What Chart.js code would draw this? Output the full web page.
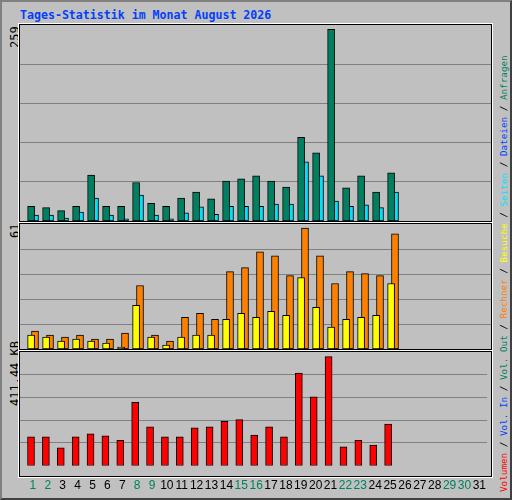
<!DOCTYPE html>
<html>
<head>
<meta charset="utf-8">
<script src="https://cdn.jsdelivr.net/npm/chart.js@4"></script>
<style>
body { margin: 0; background: #fff; }
#frame { position: relative; width: 508px; height: 496px; background: #c0c0c0; border: 2px solid #808080; border-right-color: #404040; border-bottom-color: #404040; overflow: hidden; }
.plot { position: absolute; left: 18px; width: 471px; box-shadow: 0 0 0 1px #000, 0 0 0 2px #fff; }
.plot canvas { display: block; }
.title { position: absolute; left: 18px; top: 6px; font: bold 11.6px "DejaVu Sans Mono", monospace; color: #0040ff; }
.rot { position: absolute; transform-origin: 0 0; transform: rotate(-90deg); white-space: nowrap; font-family: "DejaVu Sans Mono", monospace; }
.lab { font-size: 12px; color: #000; }
#legend { font-size: 9.3px; left: 496px; top: 490px; }
</style>
</head>
<body>
<div id="frame">
  <div class="title">Tages-Statistik im Monat August 2026</div>
  <div class="rot lab" style="left:6px;top:46px">259</div>
  <div class="rot lab" style="left:6px;top:236px">61</div>
  <div class="rot lab" style="left:6px;top:404px">411.44 KB</div>
  <div id="legend" class="rot">
    <span style="color:#ff0000">Volumen</span> / <span style="color:#0040ff">Vol. In</span> / <span style="color:#008060">Vol. Out</span> / <span style="color:#ff8000">Rechner</span> / <span style="color:#ffff00">Besuche</span> / <span style="color:#00e0ff">Seiten</span> / <span style="color:#0040ff">Dateien</span> / <span style="color:#008060">Anfragen</span>
  </div>
  <div class="plot" style="top:23px;height:196px"><canvas id="c1" width="471" height="196"></canvas></div>
  <div class="plot" style="top:222px;height:125px"><canvas id="c2" width="471" height="125"></canvas></div>
  <div class="plot" style="top:350px;height:124px;box-shadow:none"><div style="position:absolute;left:0;top:0;width:471px;height:124px;box-shadow:0 0 0 1px #000,0 0 0 2px #fff"></div><canvas id="c3" width="471" height="146"></canvas></div>
</div>
<script>
var days = [];
for (var d = 1; d <= 31; d++) days.push(d);
var weekend = [1, 2, 8, 9, 15, 16, 22, 23, 29, 30];

var anfragen = [20, 18, 14, 20, 62, 20, 20, 52, 24, 20, 31, 39, 30, 54, 57, 61, 54, 46, 113, 92, 259, 45, 61, 39, 65];
var seiten   = [8, 8, 4, 12, 31, 8, 3, 35, 8, 3, 11, 19, 9, 20, 20, 20, 23, 23, 80, 61, 27, 20, 22, 18, 39];
var besuche  = [7, 6, 4, 5, 4, 3, 1, 22, 6, 2, 6, 7, 7, 15, 18, 16, 19, 17, 36, 21, 11, 15, 16, 17, 33];
var rechner  = [9, 7, 6, 7, 5, 5, 8, 32, 7, 4, 16, 18, 15, 39, 41, 49, 47, 37, 61, 47, 33, 39, 38, 37, 58];
var volumen  = [108.6, 108.6, 67.4, 108.6, 120, 112, 94.9, 238.9, 146.3, 108.6, 108.6, 142.9, 146.3, 166.9, 173.7, 115.4, 146.3, 108.6, 348.6, 259.4, 411.44, 70.9, 94.9, 77.7, 156.6];

function pts(arr, off) {
    return arr.map(function (v, i) { return { x: days[i] + off, y: v }; });
}

function bars(label, arr, off, color) {
    return { label: label, data: pts(arr, off), backgroundColor: color, borderColor: '#000', borderWidth: 1, barThickness: 7, borderSkipped: false };
}

function makeChart(id, sets, ymax, showDays) {
    new Chart(document.getElementById(id), {
        type: 'bar',
        data: { datasets: sets },
        options: {
            responsive: false,
            animation: false,
            grouped: false,
            layout: { padding: 0 },
            plugins: { legend: { display: false }, tooltip: { enabled: false } },
            scales: {
                x: {
                    type: 'linear', min: 0.13, max: 31.53, offset: false, display: showDays,
                    grid: { display: false }, border: { display: false },
                    afterBuildTicks: function (ax) { ax.ticks = days.map(function (v) { return { value: v }; }); },
                    ticks: {
                        autoSkip: false, maxRotation: 0, padding: 5,
                        font: { family: 'Liberation Sans', size: 12 },
                        color: function (c) { return weekend.indexOf(c.tick.value) >= 0 ? '#008060' : '#000'; }
                    }
                },
                y: {
                    min: 0, max: ymax,
                    afterBuildTicks: function (ax) { ax.ticks = [1, 2, 3, 4].map(function (k) { return { value: ymax * k / 5 }; }); },
                    ticks: { display: false },
                    grid: { color: '#808080', drawTicks: false, lineWidth: 1 },
                    border: { display: false }
                }
            }
        }
    });
}

makeChart('c1', [bars('Anfragen', anfragen, -0.13, '#008060'), bars('Seiten', seiten, 0.13, '#00e0ff')], 265, false);
makeChart('c2', [bars('Besuche', besuche, -0.13, '#ffff00'), bars('Rechner', rechner, 0.13, '#ff8000')], 63, false);
makeChart('c3', [bars('Volumen', volumen, -0.13, '#ff0000')], 428.6, true);
</script>
</body>
</html>
